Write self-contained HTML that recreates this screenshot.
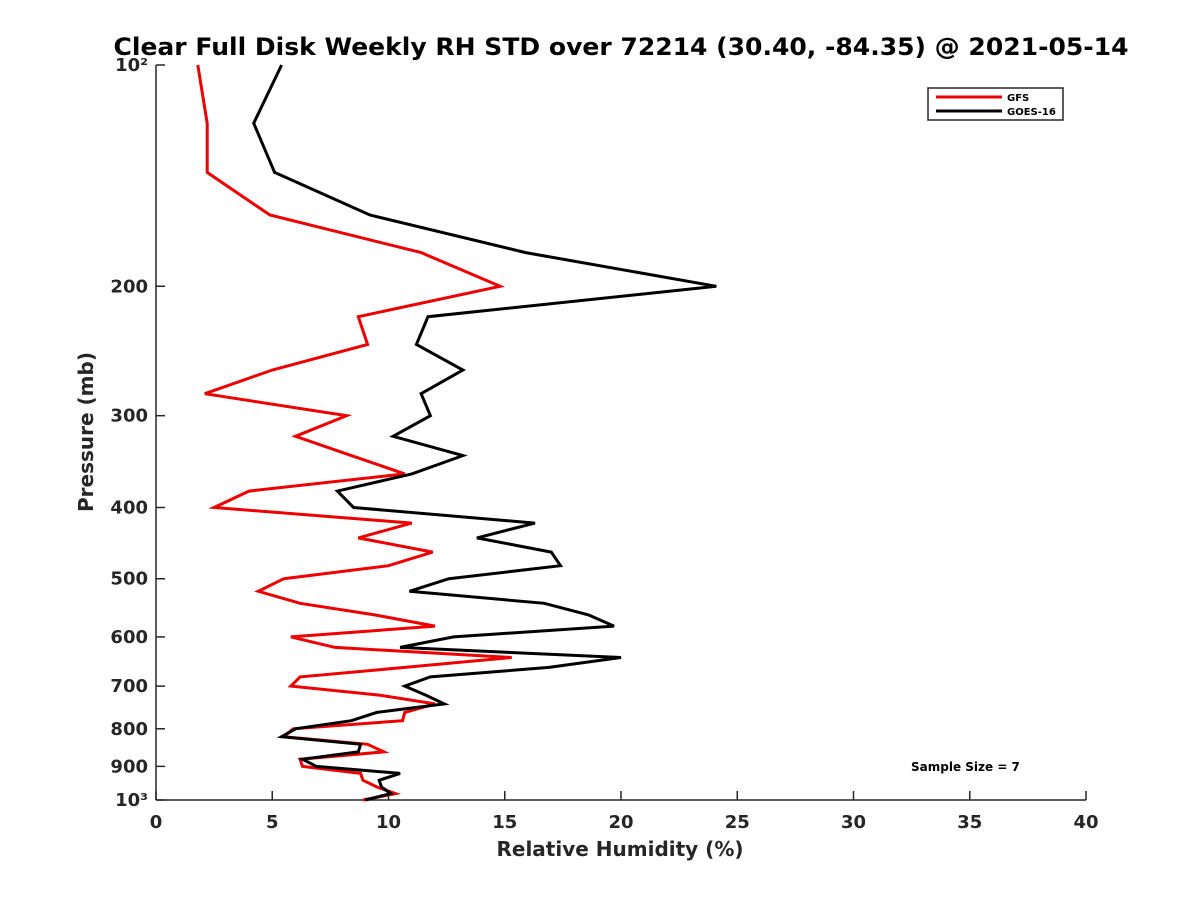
<!DOCTYPE html>
<html><head><meta charset="utf-8"><style>
body{margin:0;background:#fff}
svg text{font-family:"DejaVu Sans","Liberation Sans",sans-serif;font-weight:bold;fill:#262626}
</style></head><body>
<svg id="chart" width="1200" height="900">
<rect width="1200" height="900" fill="#fff"/>
<text x="621" y="55" text-anchor="middle" font-size="24" textLength="1015" lengthAdjust="spacingAndGlyphs" style="fill:#000">Clear Full Disk Weekly RH STD over 72214 (30.40, -84.35) @ 2021-05-14</text>
<g id="axes"></g>
<g id="series"></g>
<text x="620" y="856" text-anchor="middle" font-size="20">Relative Humidity (%)</text>
<text transform="translate(93,432) rotate(-90)" text-anchor="middle" font-size="20">Pressure (mb)</text>
<g>
<rect x="928" y="88" width="135" height="32" fill="#fff" stroke="#262626" stroke-width="1.5"/>
<line x1="936" y1="97" x2="1002" y2="97" stroke="#e00" stroke-width="3"/>
<text x="1007" y="101" font-size="10" style="fill:#000">GFS</text>
<line x1="936" y1="111" x2="1002" y2="111" stroke="#000" stroke-width="3"/>
<text x="1007" y="115" font-size="10" style="fill:#000">GOES-16</text>
</g>
<text x="911" y="771" font-size="12" style="fill:#000">Sample Size = 7</text>
</svg>
<script>
const pressures=[100,120,140,160,180,200,220,240,260,280,300,320,340,360,380,400,420,440,460,480,500,520,540,560,580,600,620,640,660,680,700,720,740,760,780,800,820,840,860,880,900,920,940,960,980,1000];
const gfsValues=[1.8,2.2,2.2,4.9,11.4,14.8,8.7,9.1,5.0,2.1,8.2,6.0,8.4,10.7,4.0,2.5,11.0,8.7,11.9,10.0,5.5,4.4,6.2,9.4,12.0,5.8,7.7,15.3,10.7,6.2,5.8,9.6,12.0,10.7,10.6,5.9,5.5,9.1,9.8,6.2,6.3,8.8,8.9,9.5,10.3,8.9];
const goesValues=[5.4,4.2,5.1,9.2,15.9,24.1,11.7,11.2,13.2,11.4,11.8,10.2,13.2,11.0,7.8,8.5,16.3,13.8,17.0,17.4,12.6,10.9,16.7,18.6,19.7,12.8,10.5,20.0,16.9,11.8,10.7,11.6,12.4,9.5,8.4,6.0,5.4,8.8,8.7,6.3,6.9,10.5,9.6,9.7,10.1,9.0];
const xTicks=[0,5,10,15,20,25,30,35,40];
const yTicks=[100,200,300,400,500,600,700,800,900,1000];
const yTickLabels=["10²","200","300","400","500","600","700","800","900","10³"];
const NS="http://www.w3.org/2000/svg";
const X0=156,X1=1086,Y0=65,Y1=800;
const xs=v=>X0+(v/40)*(X1-X0);
const ys=p=>Y0+Math.log10(p/100)*(Y1-Y0);
function mk(t,a,parent){const e=document.createElementNS(NS,t);for(const k in a)e.setAttribute(k,a[k]);parent.appendChild(e);return e;}
const ax=document.getElementById('axes');
let e=mk('line',{x1:X0,y1:Y0,x2:X0,y2:Y1,stroke:'#262626','stroke-width':1.5},ax);


e=mk('line',{x1:X0,y1:Y1,x2:X1,y2:Y1,stroke:'#262626','stroke-width':1.5},ax);


xTicks.forEach(v=>{
  const t=mk('line',{x1:xs(v),y1:Y1,x2:xs(v),y2:Y1-9,stroke:'#262626','stroke-width':1.5},ax);
  
  
  const l=mk('text',{x:xs(v),y:Y1+28,'text-anchor':'middle','font-size':18},ax);
  l.textContent=v;
  
  
});
yTicks.forEach((p,i)=>{
  const t=mk('line',{x1:X0,y1:ys(p),x2:X0+9,y2:ys(p),stroke:'#262626','stroke-width':1.5},ax);
  
  
  const l=mk('text',{x:X0-8,y:ys(p)+6,'text-anchor':'end','font-size':18},ax);
  l.textContent=yTickLabels[i];
  
  
});
const sg=document.getElementById('series');
function line(vals,color,name){
  const d=vals.map((v,i)=>(i?'L':'M')+xs(v).toFixed(1)+','+ys(pressures[i]).toFixed(1)).join('');
  const p=mk('path',{d:d,fill:'none',stroke:color,'stroke-width':3,'stroke-linejoin':'miter'},sg);
  
  
}
line(gfsValues,'#e00','gfs-line');
line(goesValues,'#000','goes16-line');
</script>
</body></html>
